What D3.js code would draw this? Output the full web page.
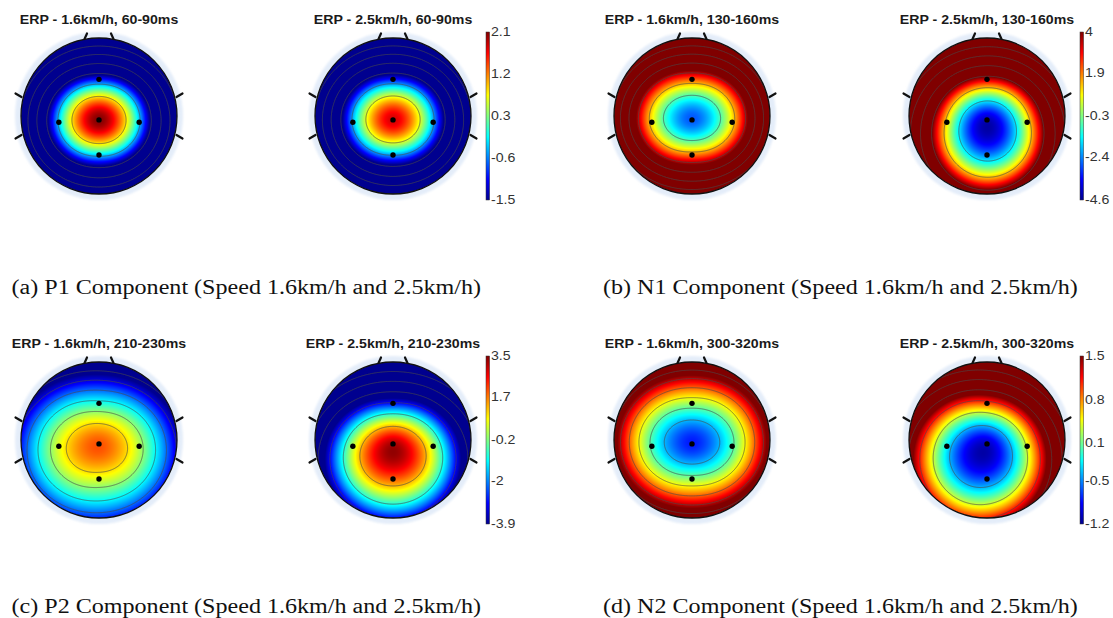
<!DOCTYPE html>
<html>
<head>
<meta charset="utf-8">
<script src="https://cdn.jsdelivr.net/npm/d3@7"></script>
<style>
  body { margin: 0; background: #fff; }
  svg { display: block; }
</style>
</head>
<body>
<svg id="chart" width="1113" height="618"></svg>
<script>
// electrode layout (head radius = 1, y down)
var electrodes = ["Fz", "C3", "Cz", "C4", "Pz"];
var elecX = [0, -0.515, 0, 0.515, 0];
var elecY = [-0.47, 0.08, 0.05, 0.08, 0.5];

// ERP amplitude at each electrode (uV), order Fz, C3, Cz, C4, Pz
var p1Slow = [-1.0, -0.35, 2.1, -0.35, -0.3];
var p1Fast = [-1.0, -0.45, 1.8, -0.45, -0.5];
var n1Slow = [2.2, 1.0, -2.8, 1.0, 2.0];
var n1Fast = [3.4, 1.0, -4.2, 0.7, -2.4];
var p2Slow = [-0.9, 0.5, 2.0, 0.2, 0.5];
var p2Fast = [-2.9, 0.2, 3.2, 0.2, 1.9];
var n2Slow = [0.25, 0.0, -0.8, 0.0, 0.2];
var n2Fast = [0.96, -0.2, -1.05, 0.42, -0.65];

// colorbar tick labels, top to bottom
var ticksP1 = [2.1, 1.2, 0.3, -0.6, -1.5];
var ticksN1 = [4, 1.9, -0.3, -2.4, -4.6];
var ticksP2 = [3.5, 1.7, -0.2, -2, -3.9];
var ticksN2 = [1.5, 0.8, 0.1, -0.5, -1.2];

var titles = [
  "ERP - 1.6km/h, 60-90ms", "ERP - 2.5km/h, 60-90ms",
  "ERP - 1.6km/h, 130-160ms", "ERP - 2.5km/h, 130-160ms",
  "ERP - 1.6km/h, 210-230ms", "ERP - 2.5km/h, 210-230ms",
  "ERP - 1.6km/h, 300-320ms", "ERP - 2.5km/h, 300-320ms"
];
var captions = [
  "(a) P1 Component (Speed 1.6km/h and 2.5km/h)",
  "(b) N1 Component (Speed 1.6km/h and 2.5km/h)",
  "(c) P2 Component (Speed 1.6km/h and 2.5km/h)",
  "(d) N2 Component (Speed 1.6km/h and 2.5km/h)"
];

var panels = [
  {maps: [p1Slow, p1Fast], ticks: ticksP1},
  {maps: [n1Slow, n1Fast], ticks: ticksN1},
  {maps: [p2Slow, p2Fast], ticks: ticksP2},
  {maps: [n2Slow, n2Fast], ticks: ticksN2}
];

var svg = d3.select("#chart");
var defs = svg.append("defs");
defs.append("filter").attr("id", "soft")
  .append("feGaussianBlur").attr("stdDeviation", 1.3);

var R = 78, M = 6;
var SPLINE_SCALE = 0.08;
var colX = [99, 393, 692, 987];
var rowY = [116, 440];
var capX = [11.5, 603];
var capY = [294, 613];
var textScale = 1.18;

var jetStops = [0, 1/8, 3/8, 5/8, 7/8, 1];
var jetColors = ["#00008f", "#0000ff", "#00ffff", "#ffff00", "#ff0000", "#800000"];

// biharmonic spline (matlab griddata 'v4') as used by topoplot
function green(d) {
  d *= SPLINE_SCALE;
  return d > 0 ? d * d * (Math.log(d) - 1) : 0;
}

function splineWeights(vals) {
  var n = vals.length, A = [], i, j, k;
  for (i = 0; i < n; i++) {
    A[i] = [];
    for (j = 0; j < n; j++) A[i][j] = green(Math.hypot(elecX[i] - elecX[j], elecY[i] - elecY[j]));
    A[i][n] = vals[i];
  }
  for (k = 0; k < n; k++) {
    var p = k;
    for (i = k + 1; i < n; i++) if (Math.abs(A[i][k]) > Math.abs(A[p][k])) p = i;
    var t = A[k]; A[k] = A[p]; A[p] = t;
    for (i = k + 1; i < n; i++) {
      var f = A[i][k] / A[k][k];
      for (j = k; j <= n; j++) A[i][j] -= f * A[k][j];
    }
  }
  var w = new Array(n);
  for (i = n - 1; i >= 0; i--) {
    var s = A[i][n];
    for (j = i + 1; j < n; j++) s -= A[i][j] * w[j];
    w[i] = s / A[i][i];
  }
  return w;
}

function drawMap(cx, cy, vals, color, title, id) {
  var w = splineWeights(vals);
  var G = 2 * (R + M);
  var grid = new Float64Array(G * G);
  var lo = Infinity, hi = -Infinity;
  for (var j = 0; j < G; j++) {
    for (var i = 0; i < G; i++) {
      var u = (i + 0.5 - R - M) / R, v = (j + 0.5 - R - M) / R;
      var z = 0;
      for (var k = 0; k < w.length; k++) z += w[k] * green(Math.hypot(u - elecX[k], v - elecY[k]));
      grid[j * G + i] = z;
      if (u * u + v * v <= 1) { if (z < lo) lo = z; if (z > hi) hi = z; }
    }
  }

  var canvas = document.createElement("canvas");
  canvas.width = G; canvas.height = G;
  var ctx = canvas.getContext("2d");
  var img = ctx.createImageData(G, G);
  for (var p = 0; p < G * G; p++) {
    var c = d3.rgb(color(grid[p]));
    img.data[4 * p] = c.r; img.data[4 * p + 1] = c.g; img.data[4 * p + 2] = c.b; img.data[4 * p + 3] = 255;
  }
  ctx.putImageData(img, 0, 0);

  defs.append("clipPath").attr("id", "head" + id)
    .append("circle").attr("cx", cx).attr("cy", cy).attr("r", R);

  var g = svg.append("g");

  g.append("circle")
    .attr("cx", cx).attr("cy", cy).attr("r", R + 6)
    .attr("fill", "#e4edf9")
    .attr("filter", "url(#soft)");

  var inner = g.append("g").attr("clip-path", "url(#head" + id + ")");
  inner.append("image")
    .attr("x", cx - R - M).attr("y", cy - R - M)
    .attr("width", G).attr("height", G)
    .attr("href", canvas.toDataURL());

  var levels = d3.range(1, 7).map(function(k) { return lo + k * (hi - lo) / 7; });
  var contours = d3.contours().size([G, G]).thresholds(levels)(grid);
  var path = d3.geoPath(d3.geoIdentity().translate([cx - R - M, cy - R - M]));
  inner.selectAll("path.iso")
    .data(contours)
    .enter().append("path")
    .attr("class", "iso")
    .attr("d", path)
    .attr("fill", "none")
    .attr("stroke", "#4a4a4a")
    .attr("stroke-opacity", 0.75)
    .attr("stroke-width", 0.9);

  g.append("circle")
    .attr("cx", cx).attr("cy", cy).attr("r", R)
    .attr("fill", "none").attr("stroke", "#111").attr("stroke-width", 1.3);

  // ears and nose stubs
  var stubs = [
    [[-R + 0.5, -19], [-R - 5.5, -22.5]], [[-R + 0.5, 19], [-R - 5.5, 22.5]],
    [[R - 0.5, -19], [R + 5.5, -22.5]], [[R - 0.5, 19], [R + 5.5, 22.5]],
    [[-14.5, -R + 1], [-12, -R - 4.5]], [[14.5, -R + 1], [12, -R - 4.5]]
  ];
  g.selectAll("path.stub")
    .data(stubs)
    .enter().append("path")
    .attr("class", "stub")
    .attr("d", function(s) { return "M" + (cx + s[0][0]) + "," + (cy + s[0][1]) + "L" + (cx + s[1][0]) + "," + (cy + s[1][1]); })
    .attr("stroke", "#111").attr("stroke-width", 2.2).attr("stroke-linecap", "round");

  g.selectAll("circle.elec")
    .data(electrodes)
    .enter().append("circle")
    .attr("class", "elec")
    .attr("cx", function(d, i) { return cx + elecX[i] * R; })
    .attr("cy", function(d, i) { return cy + elecY[i] * R; })
    .attr("r", 2.7)
    .attr("fill", "#000");

  g.append("text")
    .attr("transform", "translate(" + cx + "," + (cy - 92) + ") scale(" + textScale + ",1)")
    .attr("text-anchor", "middle")
    .attr("font-family", "'Liberation Sans', Arial, sans-serif")
    .attr("font-weight", "bold")
    .attr("font-size", "12px")
    .attr("fill", "#1a1a1a")
    .text(title);
}

function drawColorbar(x, cy, ticks, id) {
  var top = cy - 84, bottom = cy + 84;
  var y = d3.scaleLinear().domain([ticks[ticks.length - 1], ticks[0]]).range([bottom, top]);
  var grad = defs.append("linearGradient").attr("id", "jet" + id)
    .attr("x1", 0).attr("y1", 1).attr("x2", 0).attr("y2", 0);
  grad.selectAll("stop").data(jetStops).enter().append("stop")
    .attr("offset", function(d) { return d; })
    .attr("stop-color", function(d, i) { return jetColors[i]; });
  svg.append("rect")
    .attr("x", x).attr("y", top).attr("width", 3.6).attr("height", bottom - top)
    .attr("fill", "url(#jet" + id + ")")
    .attr("stroke", "#333").attr("stroke-width", 0.5);
  svg.selectAll("text.tick" + id)
    .data(ticks)
    .enter().append("text")
    .attr("class", "tick" + id)
    .attr("transform", function(d) { return "translate(" + (x + 5) + "," + (y(d) + 4.3) + ") scale(" + textScale + ",1)"; })
    .attr("font-family", "'Liberation Sans', Arial, sans-serif")
    .attr("font-size", "12px")
    .attr("fill", "#333")
    .text(function(d) { return String(d); });
}

panels.forEach(function(pn, k) {
  var row = Math.floor(k / 2), col = k % 2;
  var lo = pn.ticks[pn.ticks.length - 1], hi = pn.ticks[0];
  var color = d3.scaleLinear()
    .domain(jetStops.map(function(t) { return lo + t * (hi - lo); }))
    .range(jetColors)
    .clamp(true);
  pn.maps.forEach(function(vals, m) {
    drawMap(colX[col * 2 + m], rowY[row], vals, color, titles[k * 2 + m], k * 2 + m);
  });
  drawColorbar(colX[col * 2 + 1] + 93, rowY[row], pn.ticks, k);
  svg.append("text")
    .attr("transform", "translate(" + capX[col] + "," + capY[row] + ") scale(1.175,1)")
    .attr("font-family", "'Liberation Serif', 'Times New Roman', serif")
    .attr("font-size", "20.5px")
    .attr("fill", "#111")
    .text(captions[k]);
});
</script>
</body>
</html>
